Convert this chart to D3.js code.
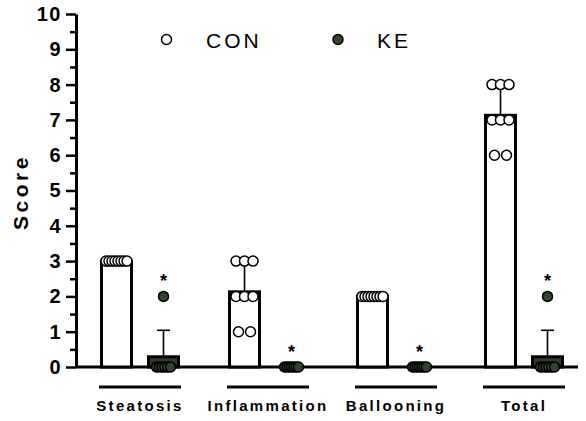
<!DOCTYPE html>
<html><head><meta charset="utf-8">
<script src="https://cdn.jsdelivr.net/npm/d3@7"></script>
<style>body{margin:0;background:#fff}svg{display:block}</style>
</head><body>
<script>
const categories = ["Steatosis", "Inflammation", "Ballooning", "Total"];
const series = ["CON", "KE"];
const conMean = [3.0, 2.13, 2.0, 7.13];
const conSD = [0, 0.83, 0, 0.83];
const keMean = [0.29, 0, 0, 0.29];
const keSD = [0.75, 0, 0, 0.75];
const conPoints = [[3,3,3,3,3,3,3,3],[3,3,3,2,2,2,1,1],[2,2,2,2,2,2,2,2],[8,8,8,7,7,7,6,6]];
const kePoints = [[0,0,0,0,0,0,2],[0,0,0,0,0,0,0],[0,0,0,0,0,0,0],[0,0,0,0,0,0,2]];
const yTicks = [0,1,2,3,4,5,6,7,8,9,10];
const yMinor = [0.5,1.5,2.5,3.5,4.5,5.5,6.5,7.5,8.5,9.5];

const W = 586, H = 421;
const keFill = "#2f3d2a", kePt = "#34452f";
const svg = d3.select("body").append("svg").attr("width", W).attr("height", H);

const y = d3.scaleLinear().domain([0, 10]).range([367, 14]);
const x0 = d3.scaleBand().domain(categories).range([76, 588]);
const x1 = d3.scaleBand().domain(series).range([-47, 47]);
const gc = c => x0(c) + x0.bandwidth() / 2;
const sc = s => x1(s) + x1.bandwidth() / 2;
const barW = 30;

// y axis
const ax = svg.append("g").attr("transform", "translate(76,0)")
  .call(d3.axisLeft(y).tickValues(yTicks).tickFormat(d3.format("d")).tickSize(10).tickPadding(4).tickSizeOuter(0));
ax.select(".domain").attr("stroke", "#000").attr("stroke-width", 3);
ax.selectAll(".tick line").attr("stroke", "#000").attr("stroke-width", 2.5);
ax.selectAll(".tick text").attr("fill", "#000")
  .style("font-family", "Liberation Sans, Arial, sans-serif").style("font-weight", "bold")
  .style("font-size", "20px").style("letter-spacing", "1.5px");
const axm = svg.append("g").attr("transform", "translate(76,0)")
  .call(d3.axisLeft(y).tickValues(yMinor).tickFormat("").tickSize(6).tickSizeOuter(0));
axm.select(".domain").remove();
axm.selectAll(".tick line").attr("stroke", "#000").attr("stroke-width", 2.5);

// baseline
svg.append("line").attr("x1", 76).attr("x2", 578).attr("y1", y(0)).attr("y2", y(0))
  .attr("stroke", "#000").attr("stroke-width", 3);

// y label
svg.append("text").attr("transform", `translate(28,${192}) rotate(-90)`)
  .attr("text-anchor", "middle")
  .style("font-family", "Liberation Sans, Arial, sans-serif").style("font-weight", "bold")
  .style("font-size", "21px").style("letter-spacing", "3.5px").text("Score");

// data rows
const rows = [];
categories.forEach((c, i) => {
  rows.push({c, s: "CON", mean: conMean[i], sd: conSD[i], pts: conPoints[i]});
  rows.push({c, s: "KE", mean: keMean[i], sd: keSD[i], pts: kePoints[i]});
});

// bars
svg.append("g").selectAll("rect").data(rows).join("rect")
  .attr("x", d => gc(d.c) + sc(d.s) - barW / 2)
  .attr("width", barW)
  .attr("y", d => y(d.mean))
  .attr("height", d => y(0) - y(d.mean))
  .attr("fill", d => d.s === "CON" ? "#fff" : keFill)
  .attr("stroke", "#000").attr("stroke-width", 3);

// error bars
const eb = svg.append("g").selectAll("g").data(rows.filter(d => d.sd > 0)).join("g");
eb.append("line")
  .attr("x1", d => gc(d.c) + sc(d.s)).attr("x2", d => gc(d.c) + sc(d.s))
  .attr("y1", d => y(d.mean)).attr("y2", d => y(d.mean + d.sd))
  .attr("stroke", "#000").attr("stroke-width", 1.6);
eb.append("line")
  .attr("x1", d => gc(d.c) + sc(d.s) - 6.5).attr("x2", d => gc(d.c) + sc(d.s) + 6.5)
  .attr("y1", d => y(d.mean + d.sd)).attr("y2", d => y(d.mean + d.sd))
  .attr("stroke", "#000").attr("stroke-width", 1.6);

// points: spread horizontally within equal values
function spread(k, s) {
  if (k <= 1) return 0;
  if (k === 2) return 12;
  if (k === 3) return 8.5;
  return (s === "CON" ? 21 : 14) / (k - 1);
}
const pts = [];
rows.forEach(r => {
  const groups = d3.group(r.pts, v => v);
  groups.forEach((vals, v) => {
    const k = vals.length, sp = spread(k, r.s);
    vals.forEach((_, j) => pts.push({c: r.c, s: r.s, v, off: (j - (k - 1) / 2) * sp}));
  });
});
svg.append("g").selectAll("circle").data(pts).join("circle")
  .attr("cx", d => gc(d.c) + sc(d.s) + d.off)
  .attr("cy", d => y(d.v))
  .attr("r", 5)
  .attr("fill", d => d.s === "CON" ? "#fff" : kePt)
  .attr("stroke", "#000").attr("stroke-width", 1.5);

// significance stars
svg.append("g").selectAll("text").data(rows.filter(d => d.s === "KE")).join("text")
  .attr("x", d => gc(d.c) + sc(d.s))
  .attr("y", d => y(d3.max(d.pts)) - 9)
  .attr("text-anchor", "middle")
  .style("font-family", "Liberation Sans, Arial, sans-serif").style("font-weight", "bold")
  .style("font-size", "18px").text("*");

// category underlines & labels
svg.append("g").selectAll("line").data(categories).join("line")
  .attr("x1", c => gc(c) - 41).attr("x2", c => gc(c) + 41)
  .attr("y1", 387).attr("y2", 387).attr("stroke", "#000").attr("stroke-width", 3);
svg.append("g").selectAll("text").data(categories).join("text")
  .attr("x", c => gc(c)).attr("y", 411).attr("text-anchor", "middle")
  .style("font-family", "Liberation Sans, Arial, sans-serif").style("font-weight", "bold")
  .style("font-size", "15px").style("letter-spacing", "2.3px").text(c => c);

// legend
const leg = [{s: "CON", cx: 166.5, tx: 206}, {s: "KE", cx: 338, tx: 377}];
const lg = svg.append("g").selectAll("g").data(leg).join("g");
lg.append("circle").attr("cx", d => d.cx).attr("cy", 39.5).attr("r", 5)
  .attr("fill", d => d.s === "CON" ? "#fff" : kePt).attr("stroke", "#000").attr("stroke-width", 1.5);
lg.append("text").attr("x", d => d.tx).attr("y", 48)
  .style("font-family", "Liberation Sans, Arial, sans-serif")
  .style("font-size", "21px").style("letter-spacing", "3px").text(d => d.s);
</script>
</body></html>
